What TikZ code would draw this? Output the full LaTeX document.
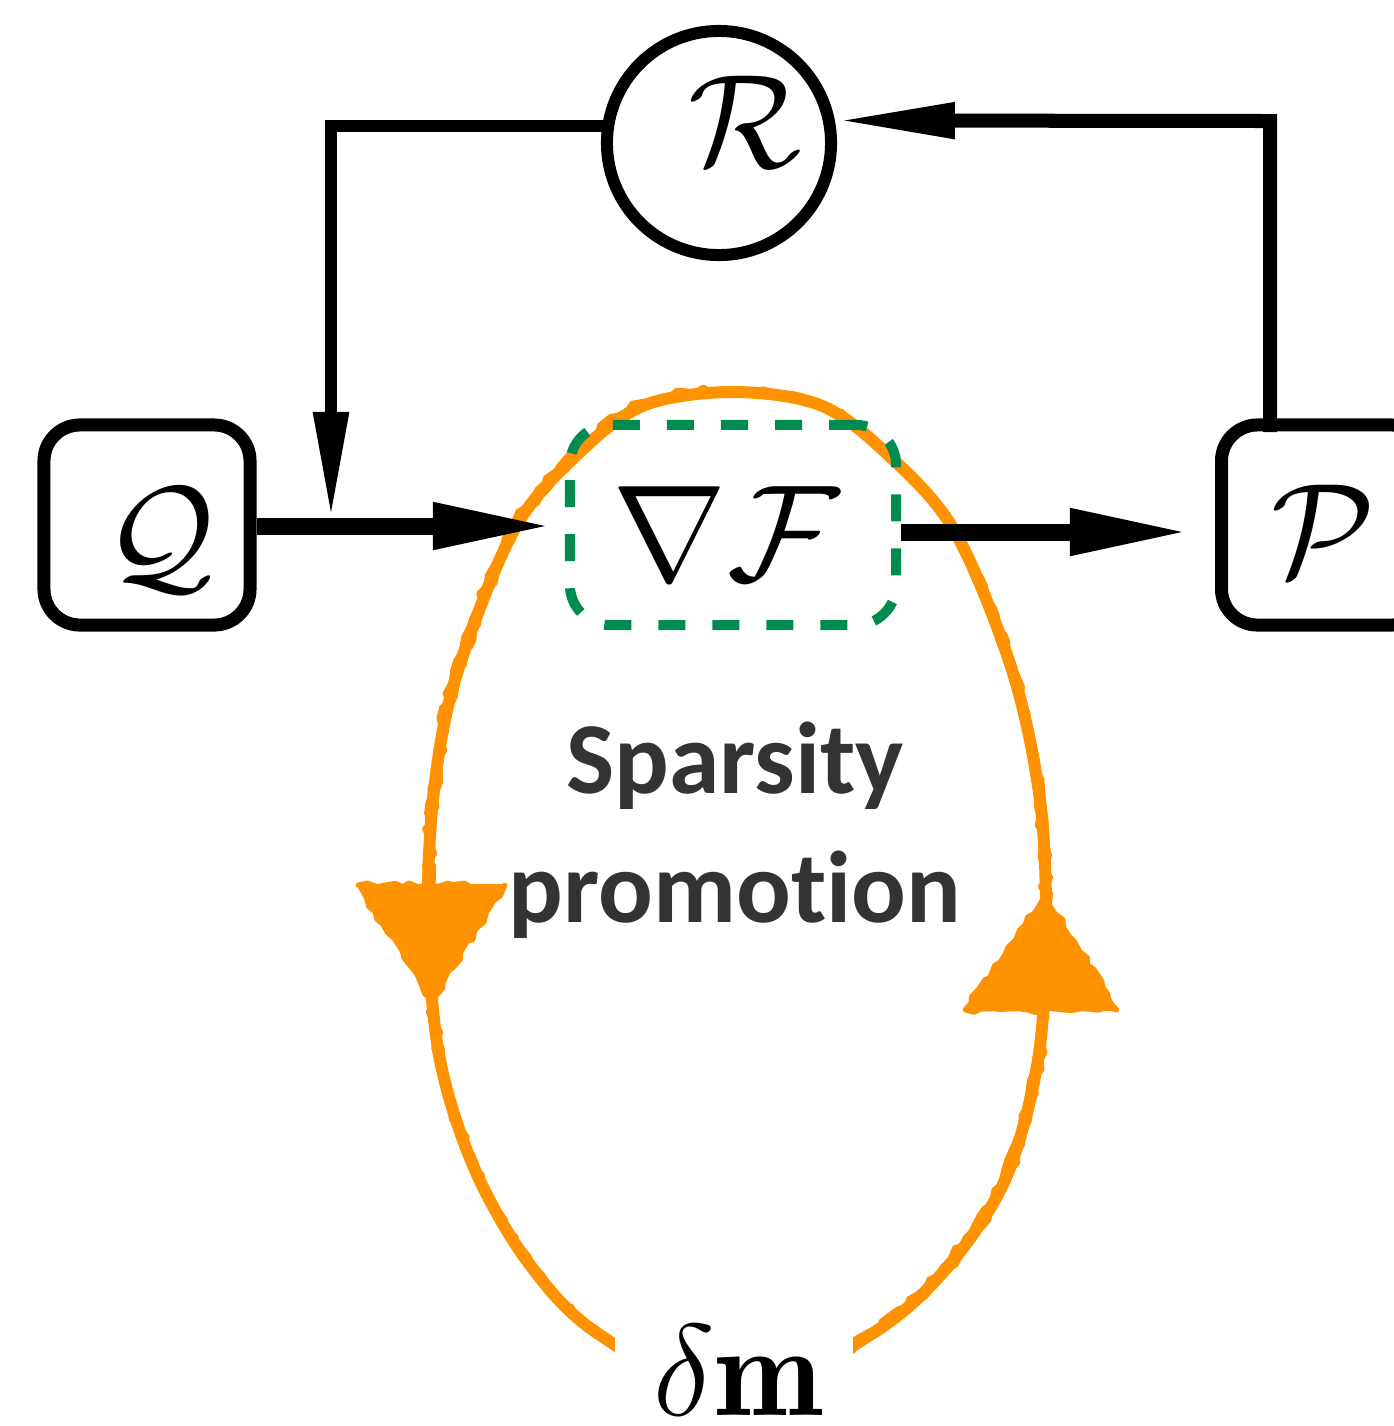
\RequirePackage{fix-cm}
\documentclass[tikz,border=0pt]{standalone}
\usepackage{fontspec}
\setsansfont{Carlito}[Ligatures=NoCommon]
\usetikzlibrary{arrows.meta,decorations.pathmorphing}
\definecolor{loopor}{HTML}{FF9200}
\definecolor{gboxc}{HTML}{008C50}
\definecolor{txtgray}{HTML}{333333}
\begin{document}
\begin{tikzpicture}[x=0.01cm,y=-0.01cm,
  blockbox/.style={draw, line width=0.13cm, rounded corners=0.36cm, minimum width=2.06cm, minimum height=2.0cm, inner sep=0pt},
  conn/.style={line width=0.17cm, -{Triangle[length=1.2cm,width=0.43cm]}},
  fbconn/.style={line width=0.12cm},
  mathlbl/.style={inner sep=0pt, font=\fontsize{38}{40}\selectfont},
  orangeline/.style={draw=loopor, line width=0.12cm, line join=round},
  orangerough/.style={draw=loopor, line width=0.05cm, line join=round, decorate,
     decoration={random steps, segment length=2.5pt, amplitude=0.8pt}},
  orangehead/.style={fill=loopor, draw=loopor, line width=0.02cm, line join=round}
]
\useasboundingbox (0,0) rectangle (1394,1426);

% orange loop
\def\looppath{plot[smooth cycle, tension=0.55] coordinates {
  (733,392) (820,405) (885,452) (954,530) (1012,670) (1040,800) (1046,930)
  (1038,1060) (1005,1180) (945,1270) (870,1335) (735,1400)
  (600,1335) (530,1265) (475,1170) (440,1060) (428,930)
  (433,800) (455,680) (514,530) (580,452) (645,405)}}
\draw[orangeline] \looppath;
\draw[orangerough, xshift=0.03cm] \looppath;
\draw[orangerough, xshift=-0.03cm, yshift=0.03cm] \looppath;
\fill[orangehead] (358,885) -- (505,885) -- (432,1000) -- cycle;
\fill[orangehead] (1045,895) -- (965,1010) -- (1117,1010) -- cycle;
\draw[orangerough] (358,885) -- (505,885) -- (432,1000) -- cycle;
\draw[orangerough] (1045,895) -- (965,1010) -- (1117,1010) -- cycle;

% nodes
\node[blockbox] (Q) at (147,525) {};
\node[mathlbl] (Qlbl) at (160,540) {$\mathcal{Q}$};
\node[blockbox, anchor=west] (P) at (1215,525) {};
\node[mathlbl] (Plbl) at (1323,531) {$\mathcal{P}$};
\node[draw, circle, line width=0.12cm, minimum size=2.24cm, inner sep=0pt] (R) at (719,143) {};
\node[mathlbl] (Rlbl) at (745,122) {$\mathcal{R}$};
\node[draw=gboxc, line width=0.10cm, dash pattern=on 0.27cm off 0.27cm, rounded corners=0.4cm,
      minimum width=3.26cm, minimum height=2.0cm] (G) at (733,525) {};
\node[mathlbl, font=\fontsize{39}{40}\selectfont] (Glbl) at (726,534) {$\nabla\mathcal{F}$};

\node[inner sep=0pt, align=center, text=txtgray, font=\sffamily\bfseries\fontsize{29}{36.7}\selectfont]
  (sp) at (735,830) {Sparsity\\promotion};

\node[fill=white, minimum width=2.38cm, minimum height=1.6cm, inner sep=0pt] (dmbox) at (734,1395) {};
\node[inner sep=0pt, font=\fontsize{37}{40}\selectfont] (dm) at (738,1370) {$\delta\mathbf{m}$};

% connectors
\coordinate (rl) at (331,126);
\coordinate (pr) at (1270,121);
\draw[conn] (Q.east |- 0,526) -- (553,526);
\draw[fbconn, -{Triangle[length=1.06cm,width=0.33cm]}] (R.west |- 0,126) ++(8,0) -- (rl) -- (331,518);
\draw[conn] (G.east |- 0,532) -- (1190,532);
\draw[fbconn, line width=0.14cm, -{Triangle[length=1.2cm,width=0.33cm]}] (1270,432) -- (pr) -- (R.11);
\end{tikzpicture}
\end{document}
